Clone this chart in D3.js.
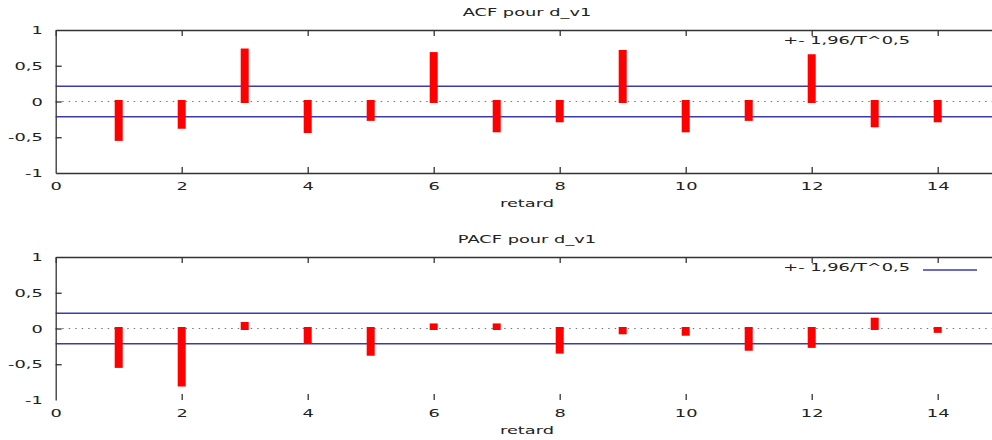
<html>
<head>
<meta charset="utf-8">
<script src="https://d3js.org/d3.v7.min.js"></script>
<style>
body { margin: 0; background: #fff; }
text { font-family: "DejaVu Sans", sans-serif; font-size: 11px; fill: #222; }
.axis path, .axis line { stroke: #333; stroke-width: 1.3; }
</style>
</head>
<body>
<script>
// lags and values
var lags = [1, 2, 3, 4, 5, 6, 7, 8, 9, 10, 11, 12, 13, 14];
var acfValues = [-0.53, -0.36, 0.72, -0.42, -0.25, 0.67, -0.41, -0.27, 0.70, -0.41, -0.25, 0.64, -0.34, -0.27];
var pacfValues = [-0.53, -0.79, 0.07, -0.19, -0.36, 0.05, 0.05, -0.33, -0.06, -0.08, -0.29, -0.25, 0.13, -0.04];
var band = 0.213;
var xTicks = [0, 2, 4, 6, 8, 10, 12, 14];
var yTicks = [-1, -0.5, 0, 0.5, 1];
var titles = ["ACF pour d_v1", "PACF pour d_v1"];
var xLabel = "retard";
var legendLabel = "+- 1,96/T^0,5";

var w = 992, h = 440;
var sx = 1.62; // gnuplot text looks stretched sideways

var svg = d3.select("body").append("svg").attr("width", w).attr("height", h);

var x = d3.scaleLinear().domain([0, 16]).range([55.7, 55.7 + 16 * 63]);

function fmt(d) { return String(d).replace(".", ","); }

function label(g, px, py, str, anchor) {
  g.append("text")
    .attr("transform", "translate(" + px + "," + py + ") scale(" + sx + ",1)")
    .attr("text-anchor", anchor || "middle")
    .text(str);
}

function panel(top, bottom, values, title, legendLine, bottomLine) {
  var y = d3.scaleLinear().domain([-1, 1]).range([bottom, top]);
  var g = svg.append("g");

  // title
  label(g, 527, top - 14, title);

  // confidence band
  g.selectAll(".band").data([band, -band]).enter().append("line")
    .attr("x1", x(0)).attr("x2", w)
    .attr("y1", function(d) { return y(d); }).attr("y2", function(d) { return y(d); })
    .attr("stroke", "#3b3bb0").attr("stroke-width", 1.3);

  // zero line
  g.append("line")
    .attr("x1", x(0)).attr("x2", w).attr("y1", y(0)).attr("y2", y(0))
    .attr("stroke", "#777").attr("stroke-width", 1).attr("stroke-dasharray", "1.5,5");

  // bars
  g.selectAll(".bar").data(values).enter().append("rect")
    .attr("x", function(d, i) { return x(lags[i]) - 4; })
    .attr("width", 8)
    .attr("y", function(d) { return y(Math.max(0, d)) - 1.5; })
    .attr("height", function(d) { return Math.abs(y(d) - y(0)) + 3; })
    .attr("fill", "#f00");

  // top border with ticks
  g.append("g").attr("class", "axis")
    .attr("transform", "translate(0," + top + ")")
    .call(d3.axisTop(x).tickValues(xTicks).tickSizeInner(-6).tickSizeOuter(0).tickFormat(""));

  // bottom ticks + labels
  var botAx = g.append("g").attr("class", "axis")
    .attr("transform", "translate(0," + bottom + ")")
    .call(d3.axisBottom(x).tickValues(xTicks).tickSizeInner(-6).tickSizeOuter(0).tickFormat(fmt));
  botAx.selectAll(".tick text").attr("y", 9).attr("transform", "scale(" + sx + ",1)");
  if (!bottomLine) botAx.select(".domain").remove();
  botAx.selectAll(".tick").filter(function(d) { return d === 0; }).select("line").remove();

  // left axis
  var leftAx = g.append("g").attr("class", "axis")
    .attr("transform", "translate(" + x(0) + ",0)")
    .call(d3.axisLeft(y).tickValues(yTicks).tickSizeInner(-6).tickSizeOuter(0).tickFormat(fmt));
  leftAx.selectAll(".tick text").attr("x", -8).attr("transform", "scale(" + sx + ",1)");
  leftAx.selectAll(".tick").filter(function(d) { return Math.abs(d) === 1; }).select("line").remove();

  // x label
  label(g, 527, bottom + 34, xLabel);

  // legend
  label(g, 910, top + 14, legendLabel, "end");
  if (legendLine) {
    g.append("line").attr("x1", 923).attr("x2", 977)
      .attr("y1", top + 13).attr("y2", top + 13)
      .attr("stroke", "#3b3bb0").attr("stroke-width", 1.3);
  }
}

panel(30, 173, acfValues, titles[0], false, true);
panel(257, 400, pacfValues, titles[1], true, false);
</script>
</body>
</html>
